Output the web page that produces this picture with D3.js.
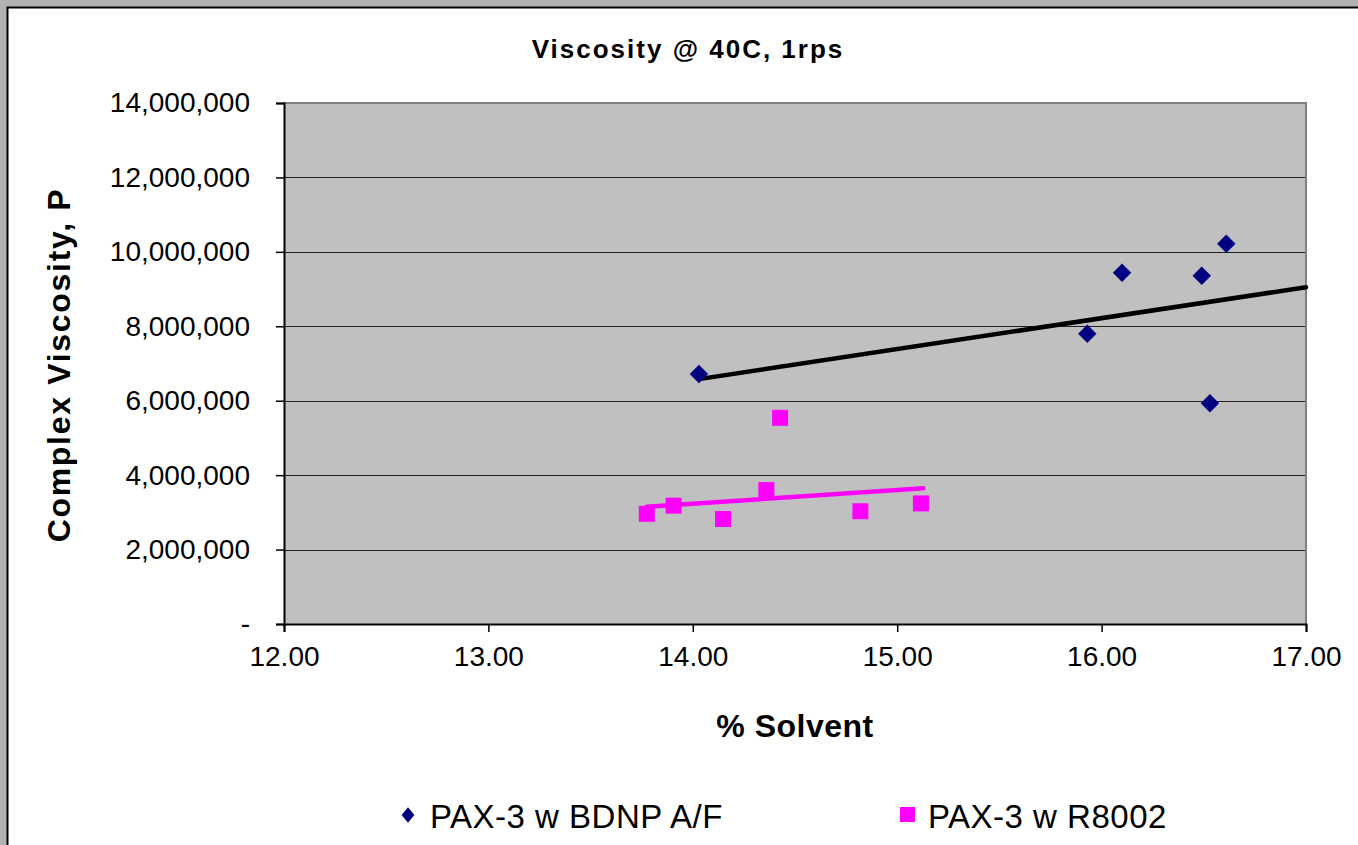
<!DOCTYPE html>
<html>
<head>
<meta charset="utf-8">
<script src="https://cdn.jsdelivr.net/npm/d3@7"></script>
<style>
  body { margin: 0; background: #fff; }
  svg text { font-family: "Liberation Sans", Arial, sans-serif; }
</style>
</head>
<body>
<svg id="chart" width="1358" height="845"></svg>
<script>
// % solvent vs complex viscosity (P)
var bdnpX = [14.03, 15.93, 16.10, 16.49, 16.61, 16.53];
var bdnpY = [6720000, 7800000, 9440000, 9360000, 10220000, 5930000];

var r8002X = [13.775, 13.906, 14.148, 14.36, 14.427, 14.82, 15.116];
var r8002Y = [2960000, 3180000, 2820000, 3600000, 5540000, 3030000, 3240000];

// trendline end points
var bdnpTrendX = [14.03, 17.0];
var bdnpTrendY = [6580000, 9050000];
var r8002TrendX = [13.775, 15.128];
var r8002TrendY = [3150000, 3650000];

var xTicks = [12, 13, 14, 15, 16, 17];
var yTicks = [0, 2000000, 4000000, 6000000, 8000000, 10000000, 12000000, 14000000];

var seriesNames = ["PAX-3 w BDNP A/F", "PAX-3 w R8002"];

var svg = d3.select("#chart"),
    margin = {top: 103, right: 52, bottom: 221, left: 284},
    width = +svg.attr("width") - margin.left - margin.right,
    height = +svg.attr("height") - margin.top - margin.bottom;

// outer frame
svg.append("rect").attr("x", 0).attr("y", 0).attr("width", 1358).attr("height", 845).attr("fill", "#b2b2b2");
svg.append("rect").attr("x", 7.5).attr("y", 7.5).attr("width", 1400).attr("height", 900)
    .attr("fill", "#fff").attr("stroke", "#000").attr("stroke-width", 2);

var g = svg.append("g").attr("transform", "translate(" + margin.left + "," + margin.top + ")");

var x = d3.scaleLinear().domain([12, 17]).range([0, width]);
var y = d3.scaleLinear().domain([0, 14000000]).range([height, 0]);

g.append("rect").attr("width", width).attr("height", height).attr("fill", "#c0c0c0");

// gridlines
g.selectAll(".grid").data(yTicks.slice(1, -1)).enter().append("line")
    .attr("x1", 0).attr("x2", width)
    .attr("y1", function(d) { return Math.round(y(d)) + 0.5; })
    .attr("y2", function(d) { return Math.round(y(d)) + 0.5; })
    .attr("stroke", "#222").attr("stroke-width", 1);

// top and right border
g.append("path")
    .attr("d", "M0," + 0 + "H" + width + "V" + height)
    .attr("fill", "none").attr("stroke", "#808080").attr("stroke-width", 2);

// axes
var xAxis = g.append("g")
    .attr("transform", "translate(0," + height + ")")
    .call(d3.axisBottom(x).tickValues(xTicks).tickSize(8).tickPadding(14).tickFormat(d3.format(".2f")));
var yAxis = g.append("g")
    .call(d3.axisLeft(y).tickValues(yTicks).tickSize(8).tickPadding(26)
      .tickFormat(function(d) { return d === 0 ? "-" : d3.format(",")(d); }));

[xAxis, yAxis].forEach(function(a) {
  a.select(".domain").attr("stroke", "#000").attr("stroke-width", 2);
  a.selectAll(".tick line").attr("stroke", "#000").attr("stroke-width", 1.5);
  a.selectAll("text").attr("font-size", 28).attr("fill", "#000")
    .attr("font-family", "Liberation Sans, Arial, sans-serif");
});

// trendlines
var trend = d3.line()
    .x(function(d) { return x(d[0]); })
    .y(function(d) { return y(d[1]); });

g.append("path")
    .datum(d3.zip(bdnpTrendX, bdnpTrendY))
    .attr("fill", "none").attr("stroke", "#000").attr("stroke-width", 4.5)
    .attr("stroke-linecap", "round").attr("d", trend);

g.append("path")
    .datum(d3.zip(r8002TrendX, r8002TrendY))
    .attr("fill", "none").attr("stroke", "#ff00ff").attr("stroke-width", 4.5)
    .attr("stroke-linecap", "round").attr("d", trend);

// markers
var diamond = d3.symbol().type(d3.symbolSquare).size(170);
g.selectAll(".bdnp").data(d3.zip(bdnpX, bdnpY)).enter().append("path")
    .attr("d", diamond)
    .attr("transform", function(d) { return "translate(" + x(d[0]) + "," + y(d[1]) + ") rotate(45)"; })
    .attr("fill", "#000080");

g.selectAll(".r8002").data(d3.zip(r8002X, r8002Y)).enter().append("rect")
    .attr("x", function(d) { return x(d[0]) - 8; })
    .attr("y", function(d) { return y(d[1]) - 8; })
    .attr("width", 16).attr("height", 16)
    .attr("fill", "#ff00ff");

// title and axis labels
svg.append("text").attr("x", 688).attr("y", 58).attr("text-anchor", "middle")
    .attr("font-size", 26).attr("font-weight", "bold").attr("letter-spacing", 2)
    .text("Viscosity @ 40C, 1rps");

svg.append("text").attr("x", 795).attr("y", 737).attr("text-anchor", "middle")
    .attr("font-size", 32).attr("font-weight", "bold").attr("letter-spacing", 0.5)
    .text("% Solvent");

svg.append("text").attr("transform", "translate(70,365) rotate(-90)").attr("text-anchor", "middle")
    .attr("font-size", 32).attr("font-weight", "bold").attr("letter-spacing", 1.7)
    .text("Complex Viscosity, P");

// legend
var legend = svg.append("g");
legend.append("path")
    .attr("d", d3.symbol().type(d3.symbolSquare).size(100))
    .attr("transform", "translate(408,815) scale(0.9,1.1) rotate(45)")
    .attr("fill", "#000080");
legend.append("text").attr("x", 430).attr("y", 828).attr("font-size", 33).attr("letter-spacing", 0.5).text(seriesNames[0]);
legend.append("rect").attr("x", 900).attr("y", 807).attr("width", 15).attr("height", 15).attr("fill", "#ff00ff");
legend.append("text").attr("x", 928).attr("y", 828).attr("font-size", 33).attr("letter-spacing", 0.5).text(seriesNames[1]);
</script>
</body>
</html>
